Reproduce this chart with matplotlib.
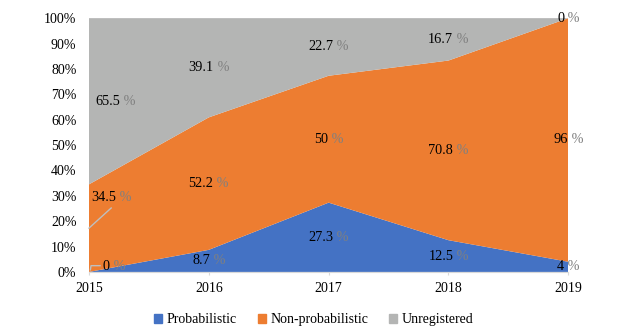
import matplotlib
matplotlib.use("Agg")
import matplotlib.pyplot as plt
from matplotlib.patches import Patch
from matplotlib.offsetbox import TextArea, HPacker, AnnotationBbox

plt.rcParams['font.family'] = ['Liberation Serif', 'DejaVu Serif']

years = [2015, 2016, 2017, 2018, 2019]
probabilistic = [0, 8.7, 27.3, 12.5, 4]
non_probabilistic = [34.5, 52.2, 50, 70.8, 96]
unregistered = [65.5, 39.1, 22.7, 16.7, 0]

series_names = ['Probabilistic', 'Non-probabilistic', 'Unregistered']
colors = ['#4472C4', '#ED7D31', '#B4B5B4']

fig = plt.figure(figsize=(6.4, 3.3), dpi=100)
ax = fig.add_axes([0.139, 0.176, 0.749, 0.769])

series = [probabilistic, non_probabilistic, unregistered]
ax.stackplot(years, *series, colors=colors, linewidth=0)

ax.set_xlim(years[0], years[-1])
ax.set_ylim(0, 100)
ax.set_xticks(years)
ax.set_xticklabels([str(y) for y in years], fontsize=10)
ax.set_yticks(range(0, 101, 10))
ax.set_yticklabels([f'{v}%' for v in range(0, 101, 10)], fontsize=10)
ax.tick_params(axis='y', length=0, pad=9)
ax.tick_params(axis='x', length=2.5, color='#d9d9d9', pad=5)
for side in ['top', 'right', 'left']:
    ax.spines[side].set_visible(False)
ax.spines['bottom'].set_color('#d9d9d9')


def value_label(x, y, val, offset=(0, 0)):
    num = TextArea(f'{val:g}', textprops=dict(color='black', fontsize=10.3))
    pct = TextArea(' %', textprops=dict(color='#808080', fontsize=10.3))
    box = HPacker(children=[num, pct], pad=0, sep=0, align='baseline')
    ab = AnnotationBbox(box, (x, y), xybox=offset, xycoords='data',
                        boxcoords='offset points', frameon=False,
                        box_alignment=(0.5, 0.5), annotation_clip=False)
    ax.add_artist(ab)


def leader(x, y, pts):
    # polyline given in points, anchored at a data position
    base = ax.transData.transform((x, y))
    px = [base[0] + p[0] * fig.dpi / 72 for p in pts]
    py = [base[1] + p[1] * fig.dpi / 72 for p in pts]
    ax.plot(px, py, color='#bfbfbf', lw=1, transform=None, clip_on=False)


# labels sit at the middle of each band; 2015 ones are nudged right
offsets_2015 = [(18, 4), (16, 22), (19, 0)]
for i, yr in enumerate(years):
    base = 0
    for s, vals in enumerate(series):
        v = vals[i]
        mid = base + v / 2
        value_label(yr, mid, v, offsets_2015[s] if i == 0 else (0, 0))
        base += v

leader(years[0], 0, [(1, 1.5), (1.5, 4.5), (8, 4.5)])
leader(years[0], non_probabilistic[0] / 2, [(0, 0), (16, 14.5)])

handles = [Patch(color=c) for c in colors]
fig.legend(handles, series_names, loc='lower center', bbox_to_anchor=(0.49, -0.026),
           ncol=3, frameon=False, fontsize=10, handlelength=0.6, handleheight=0.6,
           handletextpad=0.3, columnspacing=1.5)

fig.savefig('out.png', dpi=100)
